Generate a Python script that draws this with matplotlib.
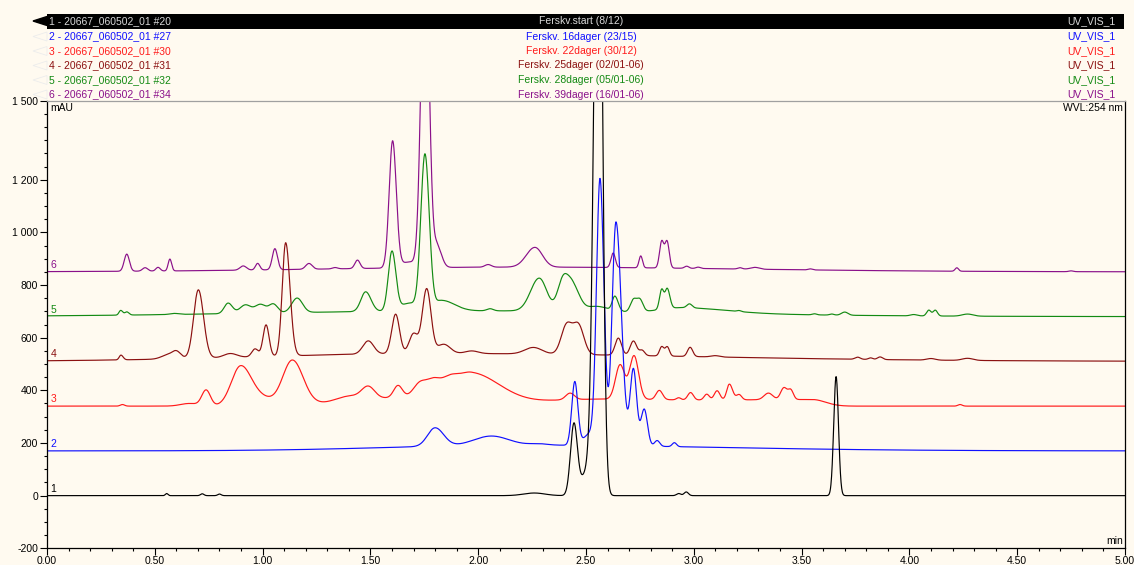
import numpy as np
import matplotlib
matplotlib.use("Agg")
import matplotlib.pyplot as plt
from matplotlib.patches import Rectangle, Polygon
from matplotlib.ticker import MultipleLocator, FixedLocator

plt.rcParams['font.family'] = ['Liberation Sans', 'DejaVu Sans']

# ---------------- data ----------------
trace_ids = ["1", "2", "3", "4", "5", "6"]
sample_names = ["1 - 20667_060502_01 #20", "2 - 20667_060502_01 #27",
                "3 - 20667_060502_01 #30", "4 - 20667_060502_01 #31",
                "5 - 20667_060502_01 #32", "6 - 20667_060502_01 #34"]
sample_desc = ["Ferskv.start (8/12)", "Ferskv. 16dager (23/15)",
               "Ferskv. 22dager (30/12)", "Ferskv. 25dager (02/01-06)",
               "Ferskv. 28dager (05/01-06)", "Ferskv. 39dager (16/01-06)"]
channels = ["UV_VIS_1"] * 6
baselines = [0, 170, 340, 510, 680, 850]          # mAU offsets of each trace
colors = ["#000000", "#1010ff", "#ff1a1a", "#8b1010", "#138a13", "#8a108a"]

# peak tables: (retention time min, height mAU, left width, right width)
peaks_1 = [(0.555, 8, 0.006, 0.006), (0.72, 7, 0.008, 0.008), (0.80, 6, 0.008, 0.008),
           (2.26, 10, 0.05, 0.05), (2.444, 270, 0.016, 0.016), (2.50, 80, 0.025, 0.02),
           (2.558, 2800, 0.020, 0.017), (2.93, 8, 0.01, 0.01), (2.965, 14, 0.01, 0.01),
           (3.660, 452, 0.011, 0.011)]
peaks_2 = [(2.2, 22, 0.6, 0.9), (1.80, 70, 0.035, 0.04), (2.06, 35, 0.08, 0.08),
           (2.28, 5, 0.04, 0.04), (2.448, 240, 0.014, 0.014), (2.52, 45, 0.03, 0.03),
           (2.565, 1000, 0.016, 0.018), (2.639, 850, 0.018, 0.025),
           (2.72, 290, 0.015, 0.015), (2.77, 140, 0.015, 0.015),
           (2.83, 22, 0.012, 0.012), (2.91, 15, 0.01, 0.01)]
peaks_3 = [(3.55, 25, 0.8, 0.06), (2.5, 15, 0.2, 0.3), (1.75, 35, 0.3, 0.25),
           (0.35, 6, 0.01, 0.01), (0.66, 10, 0.04, 0.04), (0.738, 60, 0.02, 0.02),
           (0.898, 150, 0.043, 0.05), (1.0, 25, 0.05, 0.05), (1.138, 170, 0.045, 0.05),
           (1.40, 20, 0.06, 0.06), (1.49, 45, 0.03, 0.03), (1.628, 45, 0.02, 0.02),
           (1.73, 50, 0.03, 0.03), (1.79, 50, 0.03, 0.03), (1.86, 50, 0.04, 0.04),
           (1.97, 100, 0.07, 0.13), (2.426, 25, 0.02, 0.02), (2.658, 130, 0.021, 0.021),
           (2.723, 165, 0.021, 0.021), (2.84, 35, 0.015, 0.015), (2.93, 8, 0.01, 0.01),
           (2.985, 28, 0.013, 0.013), (3.06, 22, 0.012, 0.012), (3.108, 35, 0.013, 0.013),
           (3.165, 60, 0.012, 0.015), (3.21, 20, 0.012, 0.012), (3.346, 25, 0.02, 0.02),
           (3.418, 45, 0.015, 0.015), (3.45, 35, 0.012, 0.012), (4.235, 6, 0.01, 0.01)]
peaks_4 = [(1.8, 30, 0.8, 1.2),
           (0.343, 18, 0.008, 0.01), (0.56, 15, 0.03, 0.03), (0.601, 25, 0.02, 0.02),
           (0.702, 260, 0.022, 0.024), (0.85, 15, 0.03, 0.03), (0.965, 30, 0.015, 0.015),
           (1.016, 120, 0.014, 0.014), (1.107, 430, 0.016, 0.02), (1.49, 50, 0.025, 0.025),
           (1.617, 150, 0.018, 0.018), (1.70, 75, 0.02, 0.02), (1.761, 245, 0.02, 0.02),
           (1.84, 35, 0.03, 0.03), (1.97, 10, 0.03, 0.03), (2.256, 25, 0.04, 0.04),
           (2.41, 110, 0.025, 0.025), (2.465, 110, 0.025, 0.025), (2.65, 65, 0.015, 0.015),
           (2.72, 55, 0.015, 0.015), (2.76, 20, 0.012, 0.012), (2.851, 35, 0.01, 0.01),
           (2.877, 35, 0.01, 0.01), (2.983, 35, 0.012, 0.012), (3.1, 5, 0.02, 0.02),
           (3.76, 8, 0.012, 0.012), (3.82, 6, 0.01, 0.01), (3.864, 10, 0.012, 0.012),
           (4.10, 6, 0.02, 0.02), (4.27, 8, 0.025, 0.025)]
peaks_5 = [(2.0, 22, 1.0, 1.0),
           (0.342, 18, 0.008, 0.01), (0.37, 12, 0.008, 0.01), (0.59, 4, 0.02, 0.02),
           (0.84, 40, 0.018, 0.02), (0.92, 32, 0.025, 0.025), (0.99, 33, 0.025, 0.025),
           (1.05, 33, 0.02, 0.02), (1.16, 55, 0.025, 0.025), (1.478, 75, 0.022, 0.025),
           (1.60, 225, 0.017, 0.018), (1.68, 30, 0.04, 0.04), (1.753, 590, 0.019, 0.02),
           (1.83, 40, 0.03, 0.06), (2.055, 8, 0.015, 0.015), (2.283, 125, 0.04, 0.035),
           (2.394, 120, 0.025, 0.025), (2.44, 90, 0.025, 0.03), (2.55, 20, 0.05, 0.05),
           (2.634, 55, 0.012, 0.015), (2.72, 45, 0.014, 0.014), (2.75, 45, 0.014, 0.014),
           (2.851, 75, 0.01, 0.01), (2.877, 75, 0.01, 0.012), (2.95, 20, 0.1, 0.2),
           (2.98, 15, 0.012, 0.012), (3.21, 4, 0.01, 0.01), (3.56, 4, 0.01, 0.01),
           (3.64, 4, 0.01, 0.01), (3.70, 12, 0.015, 0.015), (4.02, 5, 0.015, 0.015),
           (4.09, 22, 0.01, 0.01), (4.12, 22, 0.01, 0.01), (4.27, 8, 0.025, 0.025)]
peaks_6 = [(2.2, 18, 0.9, 1.0),
           (0.37, 65, 0.012, 0.012), (0.455, 13, 0.012, 0.012), (0.515, 14, 0.01, 0.01),
           (0.57, 45, 0.008, 0.008), (0.91, 16, 0.015, 0.015), (0.977, 25, 0.01, 0.01),
           (1.057, 80, 0.012, 0.012), (1.215, 22, 0.015, 0.015), (1.336, 5, 0.012, 0.012),
           (1.44, 32, 0.012, 0.012), (1.603, 480, 0.016, 0.017), (1.68, 22, 0.04, 0.04),
           (1.753, 1260, 0.018, 0.019), (1.81, 80, 0.015, 0.02), (2.046, 10, 0.015, 0.015),
           (2.263, 75, 0.04, 0.035), (2.626, 55, 0.01, 0.01), (2.754, 45, 0.008, 0.008),
           (2.851, 100, 0.01, 0.01), (2.876, 100, 0.01, 0.01), (2.967, 8, 0.01, 0.01),
           (3.02, 5, 0.01, 0.01), (3.214, 5, 0.01, 0.01), (3.284, 7, 0.02, 0.02),
           (3.54, 4, 0.01, 0.01), (4.22, 13, 0.008, 0.008), (4.75, 3, 0.01, 0.01)]
peak_tables = [peaks_1, peaks_2, peaks_3, peaks_4, peaks_5, peaks_6]

x_ticks = [0.0, 0.5, 1.0, 1.5, 2.0, 2.5, 3.0, 3.5, 4.0, 4.5, 5.0]
x_tick_labels = ["0.00", "0.50", "1.00", "1.50", "2.00", "2.50", "3.00", "3.50", "4.00", "4.50", "5.00"]
y_ticks = [-200, 0, 200, 400, 600, 800, 1000, 1200, 1500]
y_tick_labels = ["-200", "0", "200", "400", "600", "800", "1 000", "1 200", "1 500"]

# ---------------- figure ----------------
W, H = 1134, 565
BG = "#fffaf0"
fig = plt.figure(figsize=(W / 100, H / 100), dpi=100, facecolor=BG)

def fx(px):
    return px / W

def fy(py):
    return 1 - py / H

ax_l, ax_r, ax_t, ax_b = 47, 1125, 100.7, 548.3
ax = fig.add_axes([fx(ax_l), fy(ax_b), fx(ax_r - ax_l), (ax_b - ax_t) / H])
ax.set_facecolor(BG)

t = np.linspace(0, 5, 5001)

def chromatogram(base, table):
    y = np.full_like(t, float(base))
    for (rt, h, wl, wr) in table:
        w = np.where(t < rt, wl, wr)
        y += h * np.exp(-0.5 * ((t - rt) / w) ** 2)
    return y

for i in reversed(range(6)):
    y = chromatogram(baselines[i], peak_tables[i])
    ax.plot(t, y, color=colors[i], lw=0.85, solid_joinstyle="round")
    ax.annotate(trace_ids[i], xy=(0, baselines[i]), xytext=(2.5, 1.5),
                textcoords="offset points", color=colors[i], fontsize=7.5,
                ha="left", va="bottom")

ax.set_xlim(0, 5)
ax.set_ylim(-200, 1500)
ax.xaxis.set_major_locator(FixedLocator(x_ticks))
ax.set_xticklabels(x_tick_labels)
ax.xaxis.set_minor_locator(MultipleLocator(0.1))
ax.yaxis.set_major_locator(FixedLocator(y_ticks))
ax.set_yticklabels(y_tick_labels)
ax.yaxis.set_minor_locator(MultipleLocator(50))
ax.tick_params(axis="both", which="major", direction="out", length=5, width=0.8,
               labelsize=7.5, colors="black", pad=1.5)
ax.tick_params(axis="x", which="major", pad=0.5)
ax.tick_params(axis="both", which="minor", direction="out", length=2.5, width=0.8)
for s in ["left", "bottom", "right"]:
    ax.spines[s].set_color("black")
    ax.spines[s].set_linewidth(0.9)
ax.spines["top"].set_color("#a0a0a0")
ax.spines["top"].set_linewidth(0.9)

ax.text(0.003, 0.995, "mAU", transform=ax.transAxes, fontsize=7.5, ha="left", va="top")
ax.text(0.998, 0.995, "WVL:254 nm", transform=ax.transAxes, fontsize=7.5, ha="right", va="top")
ax.text(0.998, 0.005, "min", transform=ax.transAxes, fontsize=7.5, ha="right", va="bottom")

# ---------------- header ----------------
row_y = [21, 36.5, 51, 65.5, 80, 94.5]
fig.add_artist(Rectangle((fx(47), fy(28.5)), fx(1124 - 47), (28.5 - 14) / H,
                         transform=fig.transFigure, facecolor="black", edgecolor="none"))
for i in range(6):
    yy = row_y[i]
    if i == 0:
        tri = Polygon([(fx(33), fy(yy)), (fx(47), fy(yy - 4.5)), (fx(47), fy(yy + 4.5))],
                      closed=True, transform=fig.transFigure, facecolor="black", edgecolor="black")
        tc = "#d8d8d8"
    else:
        tri = Polygon([(fx(33), fy(yy)), (fx(47), fy(yy - 4.5)), (fx(47), fy(yy + 4.5))],
                      closed=True, transform=fig.transFigure, facecolor="none",
                      edgecolor="#ececec", lw=0.6)
        tc = colors[i]
    fig.add_artist(tri)
    fig.text(fx(49), fy(yy), sample_names[i], color=tc, fontsize=7.5, ha="left", va="center")
    fig.text(fx(581), fy(yy), sample_desc[i], color=tc, fontsize=7.5, ha="center", va="center")
    fig.text(fx(1115), fy(yy), channels[i], color=tc, fontsize=7.5, ha="right", va="center")

fig.savefig("out.png", dpi=100, facecolor=BG)
